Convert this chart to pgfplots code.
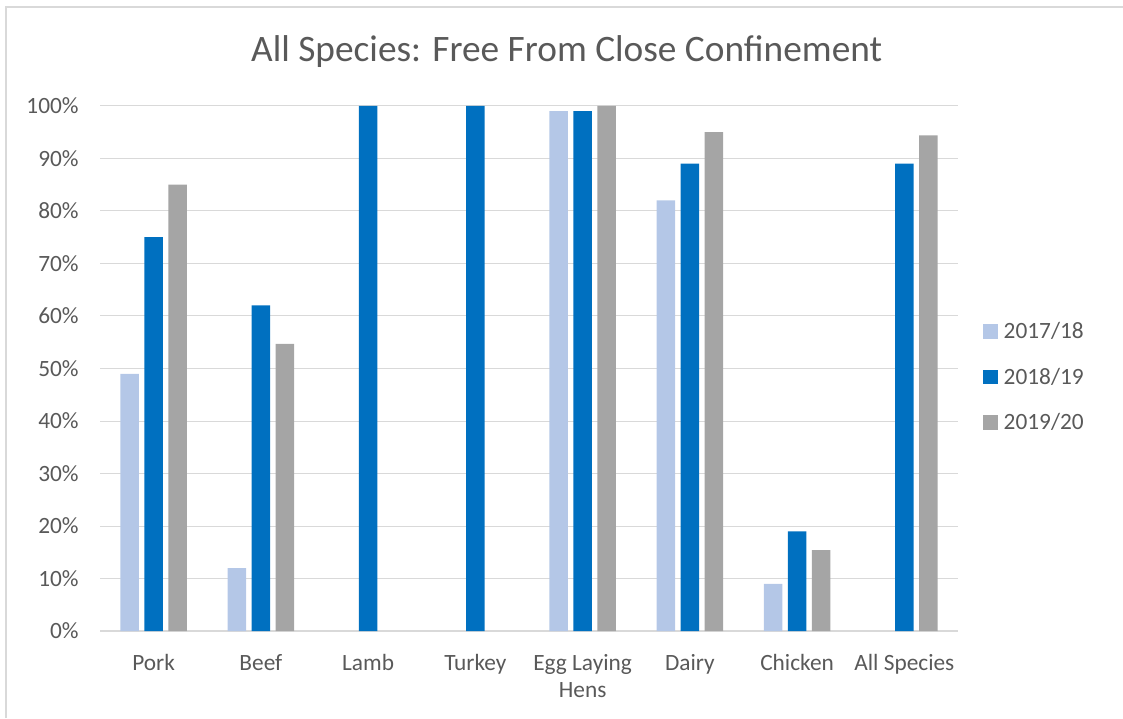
\documentclass[border=0pt]{standalone}
\usepackage{pgfplots}
\pgfplotsset{compat=1.18}
\usepackage{fontspec}
\setmainfont{Carlito}

\definecolor{lightblue}{HTML}{B4C7E7}
\definecolor{midblue}{HTML}{0070C0}
\definecolor{midgray}{HTML}{A5A5A5}
\definecolor{txtgray}{HTML}{595959}
\definecolor{gridgray}{HTML}{D9D9D9}

\begin{document}
\begin{tikzpicture}
  \useasboundingbox (0,0) rectangle (842.25pt,538.5pt);
  % outer chart frame (only top and left edges are in view)
  \draw[gridgray, line width=1pt] (4.5pt,0) -- (4.5pt,533.25pt) -- (842.25pt,533.25pt);
  \node[text=txtgray, font=\fontsize{28}{34}\selectfont] at (425pt,500pt)
    {All Species: Free From Close Confinement};
  \begin{axis}[
    at={(75pt,65.25pt)}, anchor=south west,
    scale only axis, width=643.5pt, height=393.75pt,
    ybar=4pt, bar width=14pt,
    xmin=-0.5, xmax=7.5, ymin=0, ymax=100,
    xtick={0,...,7},
    xticklabels={Pork,Beef,Lamb,Turkey,{Egg Laying\\Hens},Dairy,Chicken,All Species},
    xticklabel style={align=center, text=txtgray, yshift=-14pt,
      font=\fontsize{17.5}{20.5}\selectfont},
    ytick={0,10,...,100},
    yticklabel={\pgfmathprintnumber{\tick}\%},
    yticklabel style={text=txtgray, xshift=-12.5pt},
    /pgf/number format/assume math mode=true,
    tick label style={font=\fontsize{17.5}{20.5}\selectfont},
    major tick length=0pt,
    ymajorgrids, grid style={gridgray, line width=0.75pt},
    axis x line*=bottom, axis y line*=left,
    x axis line style={gridgray, line width=1pt, -},
    y axis line style={draw=none},
    legend style={at={(1.0285,0.4838)}, anchor=west, draw=none, fill=none,
      font=\fontsize{17.5}{20}\selectfont, text=txtgray,
      row sep=16.5pt, inner sep=0pt,
      nodes={inner xsep=4.5pt}},
    legend cell align=left,
    legend image code/.code={\fill[#1,draw=none] (0pt,-5.6pt) rectangle (11.25pt,5.6pt);},
  ]
    \addplot[fill=lightblue, draw=none] coordinates {(0,49) (1,12) (4,99) (5,82) (6,9)};
    \addplot[fill=midblue, draw=none] coordinates {(0,75) (1,62) (2,100) (3,100) (4,99) (5,89) (6,19) (7,89)};
    \addplot[fill=midgray, draw=none] coordinates {(0,85) (1,54.7) (4,100) (5,95) (6,15.4) (7,94.4)};
    \legend{2017/18,2018/19,2019/20}
  \end{axis}
\end{tikzpicture}
\end{document}
